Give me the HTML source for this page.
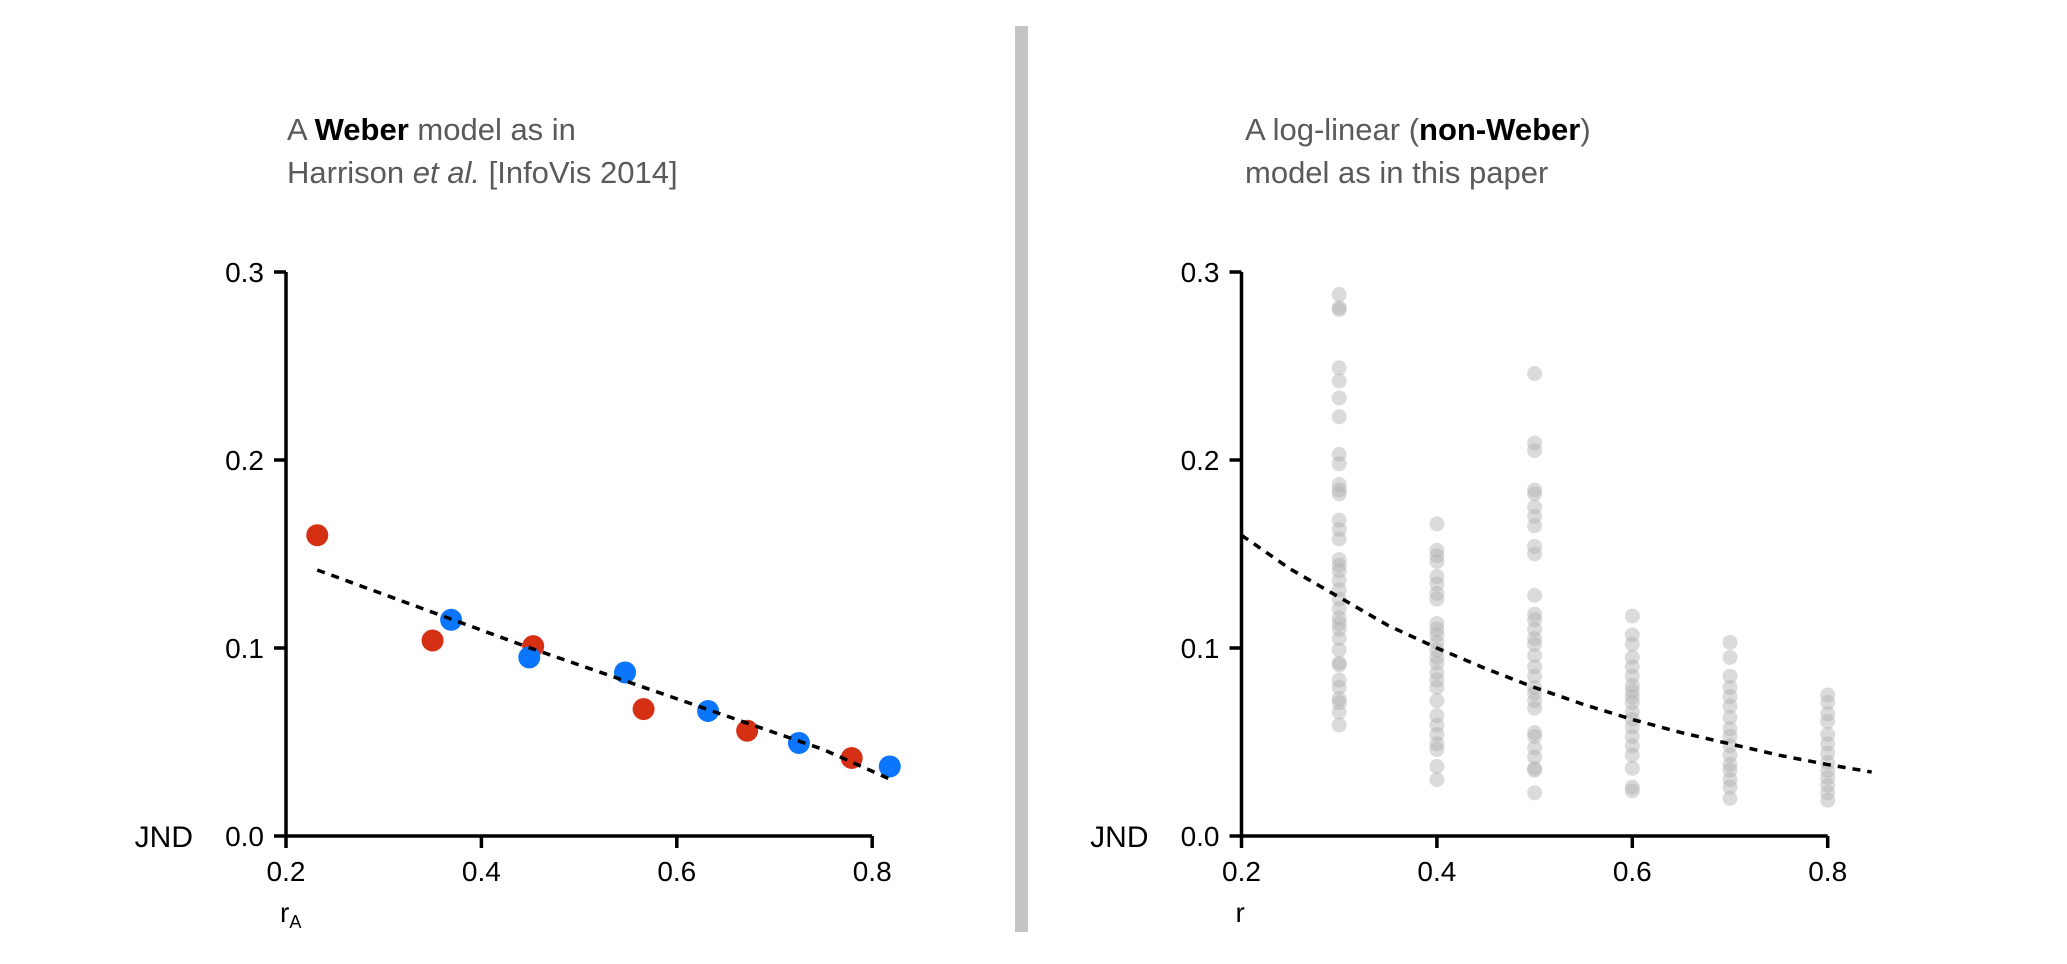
<!DOCTYPE html>
<html><head><meta charset="utf-8"><style>
html,body{margin:0;padding:0;background:#fff;}
svg{display:block;font-family:"Liberation Sans",sans-serif;}
</style></head><body>
<svg id="fig" width="2067" height="964" viewBox="0 0 2067 964">
<rect x="1015" y="26" width="13" height="906" fill="#c4c4c4"/>
<g font-size="31" fill="#5a5a5a">
<text x="287" y="140">A <tspan font-weight="bold" fill="#000">Weber</tspan> model as in</text>
<text x="287" y="183">Harrison <tspan font-style="italic">et al.</tspan> [InfoVis 2014]</text>
</g>
<g font-size="31" fill="#5a5a5a">
<text x="1245" y="140">A log-linear (<tspan font-weight="bold" fill="#000">non-Weber</tspan>)</text>
<text x="1245" y="183">model as in this paper</text>
</g>
<g id="left"></g>
<g id="right"></g>
</svg>
<script>
const xTicks = [0.2, 0.4, 0.6, 0.8];
const yTicks = [0.0, 0.1, 0.2, 0.3];
const yTickLabels = ["0.0", "0.1", "0.2", "0.3"];
const xTickLabels = ["0.2", "0.4", "0.6", "0.8"];
// left panel data
const redR = [0.232, 0.350, 0.453, 0.566, 0.672, 0.779];
const redJND = [0.160, 0.104, 0.101, 0.0675, 0.056, 0.0415];
const blueR = [0.369, 0.449, 0.547, 0.632, 0.725, 0.818];
const blueJND = [0.115, 0.095, 0.087, 0.0665, 0.0495, 0.037];
const weberR = [0.232, 0.35, 0.45, 0.55, 0.65, 0.75, 0.818];
const weberJND = [0.1415, 0.119, 0.100, 0.082, 0.064, 0.046, 0.0303];
// right panel data
const groupR = [0.3, 0.4, 0.5, 0.6, 0.7, 0.8];
const groupJND = [
 [0.288,0.281,0.280,0.249,0.242,0.233,0.223,0.203,0.198,0.187,0.184,0.182,0.168,0.163,0.158,0.147,0.144,0.141,0.136,0.131,0.126,0.121,0.116,0.113,0.110,0.105,0.099,0.092,0.091,0.083,0.079,0.073,0.071,0.066,0.059],
 [0.166,0.152,0.149,0.146,0.138,0.134,0.129,0.126,0.113,0.110,0.107,0.103,0.099,0.095,0.092,0.087,0.083,0.079,0.072,0.064,0.059,0.054,0.049,0.046,0.037,0.030],
 [0.246,0.209,0.205,0.184,0.182,0.175,0.170,0.165,0.154,0.150,0.128,0.118,0.115,0.110,0.105,0.102,0.096,0.090,0.085,0.079,0.076,0.072,0.068,0.055,0.053,0.047,0.042,0.036,0.035,0.023],
 [0.117,0.107,0.102,0.095,0.090,0.085,0.080,0.077,0.074,0.071,0.066,0.062,0.058,0.053,0.048,0.043,0.036,0.026,0.024],
 [0.103,0.095,0.085,0.079,0.074,0.069,0.063,0.057,0.053,0.048,0.043,0.038,0.035,0.030,0.026,0.020],
 [0.075,0.071,0.065,0.061,0.054,0.049,0.044,0.039,0.035,0.031,0.027,0.023,0.019]
];
const modelR = [0.2,0.25,0.3,0.35,0.4,0.45,0.5,0.55,0.6,0.65,0.7,0.75,0.8,0.845];
const modelJND = [0.160,0.142,0.127,0.112,0.100,0.089,0.079,0.070,0.062,0.055,0.049,0.043,0.038,0.034];

const NS = "http://www.w3.org/2000/svg";
function mk(parent, tag, attrs){const e=document.createElementNS(NS,tag);for(const k in attrs)e.setAttribute(k,attrs[k]);parent.appendChild(e);return e;}

function drawAxes(g, x0, xLabel, sub){
  const xs = v => x0 + (v-0.2)*977;
  const ys = v => 836 - v*1880;
  const ax = mk(g,'path',{d:`M${x0} ${ys(0.3)} V836 H${xs(0.8)}`,fill:'none',stroke:'#000','stroke-width':3.5});
  
  
  yTicks.forEach((v,i)=>{
    const t=mk(g,'line',{x1:x0-12,x2:x0,y1:ys(v),y2:ys(v),stroke:'#000','stroke-width':3.5});
    
    
    const l=mk(g,'text',{x:x0-22,y:ys(v)+10,'text-anchor':'end','font-size':28,fill:'#000'});
    l.textContent=yTickLabels[i];
    
    
  });
  xTicks.forEach((v,i)=>{
    const t=mk(g,'line',{x1:xs(v),x2:xs(v),y1:836,y2:848,stroke:'#000','stroke-width':3.5});
    
    
    const l=mk(g,'text',{x:xs(v),y:881,'text-anchor':'middle','font-size':28,fill:'#000'});
    l.textContent=xTickLabels[i];
    
    
  });
  const j=mk(g,'text',{x:x0-93,y:847,'text-anchor':'end','font-size':30,fill:'#000'});
  j.textContent='JND';
  
  
  const xl=mk(g,'text',{x:x0-6,y:922,'font-size':28,fill:'#000'});
  xl.textContent=xLabel;
  if(sub){const s=mk(xl,'tspan',{'font-size':18,dy:6});s.textContent=sub;}
  
  
  return [xs,ys];
}

// left
const L=document.getElementById('left');
const [lx,ly]=drawAxes(L,286,'r','A');
redR.forEach((r,i)=>{
  const c=mk(L,'circle',{cx:lx(r),cy:ly(redJND[i]),r:11,fill:'#d52f14'});
  
  
});
blueR.forEach((r,i)=>{
  const c=mk(L,'circle',{cx:lx(r),cy:ly(blueJND[i]),r:11,fill:'#0b76fb'});
  
  
});
const wl=mk(L,'polyline',{points:weberR.map((r,i)=>lx(r)+','+ly(weberJND[i])).join(' '),fill:'none',stroke:'#000','stroke-width':3.5,'stroke-dasharray':'8 7'});



// right
const R=document.getElementById('right');
const [rx,ry]=drawAxes(R,1241.5,'r','');
groupR.forEach((r,gi)=>{
  groupJND[gi].forEach(v=>{
    const c=mk(R,'circle',{cx:rx(r),cy:ry(v),r:7.5,fill:'#b0b0b0','fill-opacity':0.45});
    
    
  });
});
const ml=mk(R,'polyline',{points:modelR.map((r,i)=>rx(r)+','+ry(modelJND[i])).join(' '),fill:'none',stroke:'#000','stroke-width':3.5,'stroke-dasharray':'8 7'});


</script>
</body></html>
